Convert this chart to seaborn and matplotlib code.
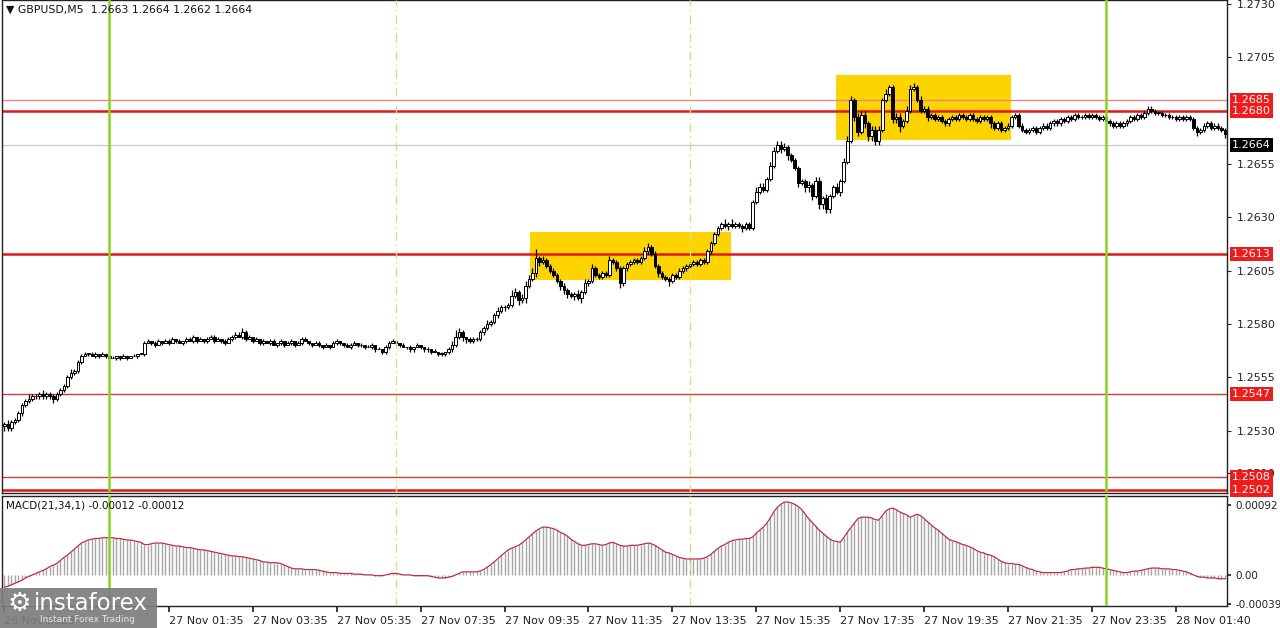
import numpy as np
import pandas as pd
import matplotlib
matplotlib.use("Agg")
import matplotlib.pyplot as plt
import seaborn as sns
from matplotlib.patches import Rectangle

# ---------------- data (prices in pips above BASE) ----------------
BASE = 1.2500
OPEN0 = 32
CLOSE_PIPS = [
    33, 31, 34, 35, 38, 42, 44, 45, 46, 46,
    47, 46, 47, 46, 45, 47, 49, 51, 55, 57,
    58, 62, 65, 66, 66, 65, 66, 65, 66, 65,
    64, 64, 65, 64, 65, 64, 65, 65, 66, 66,
    71, 72, 71, 70, 72, 71, 72, 71, 73, 72,
    71, 72, 73, 72, 74, 72, 73, 72, 73, 74,
    72, 73, 72, 71, 73, 74, 75, 74, 76, 73,
    74, 72, 73, 71, 72, 71, 72, 70, 71, 72,
    70, 71, 72, 70, 71, 73, 72, 71, 70, 71,
    70, 69, 70, 69, 71, 72, 71, 70, 69, 70,
    71, 70, 70, 69, 69, 70, 68, 68, 67, 69,
    71, 72, 71, 70, 69, 69, 68, 69, 70, 69,
    68, 68, 67, 67, 66, 66, 67, 68, 70, 74,
    76, 74, 73, 72, 73, 73, 76, 78, 80, 81,
    84, 86, 88, 88, 89, 93, 95, 91, 92, 98,
    101, 104, 111, 109, 110, 107, 105, 103, 100, 98,
    96, 94, 93, 94, 92, 95, 99, 100, 106, 103,
    102, 104, 103, 110, 109, 106, 99, 106, 108, 109,
    110, 109, 111, 114, 116, 113, 107, 104, 102, 101,
    100, 103, 102, 105, 106, 107, 108, 109, 108, 110,
    109, 114, 118, 122, 125, 127, 126, 127, 126, 127,
    126, 125, 127, 125, 137, 142, 144, 143, 148, 154,
    161, 164, 162, 163, 159, 157, 153, 146, 147, 144,
    145, 140, 147, 136, 139, 134, 140, 144, 142, 147,
    156, 166, 185, 177, 170, 178, 174, 168, 171, 166,
    171, 185, 188, 191, 176, 177, 173, 175, 180, 190,
    191, 185, 180, 181, 177, 178, 176, 177, 175, 174,
    176, 177, 176, 178, 177, 176, 178, 176, 175, 177,
    176, 177, 174, 172, 174, 171, 172, 173, 177, 178,
    173, 171, 170, 171, 172, 170, 172, 173, 172, 174,
    175, 174, 176, 175, 177, 176, 178, 177, 177, 178,
    177, 178, 177, 176, 177, 175, 174, 173, 174, 173,
    174, 175, 177, 176, 178, 177, 179, 181, 180, 179,
    179, 178, 178, 177, 177, 176, 177, 176, 177, 176,
    172, 170, 171, 173, 174, 172, 173, 172, 171, 169,
]
UPPER_WICK_PIPS = [
    1, 2, 1, 1, 1, 1, 1, 2, 1, 1,
    1, 2, 1, 1, 1, 1, 1, 1, 1, 2,
    1, 1, 1, 1, 0, 1, 1, 0, 1, 0,
    0, 1, 0, 0, 1, 0, 0, 1, 0, 0,
    1, 1, 0, 1, 1, 0, 1, 1, 1, 0,
    1, 0, 1, 1, 1, 0, 1, 0, 1, 1,
    1, 1, 0, 1, 1, 1, 1, 1, 2, 1,
    1, 0, 1, 0, 1, 0, 1, 1, 0, 1,
    0, 1, 1, 0, 1, 1, 1, 0, 0, 1,
    1, 0, 1, 0, 1, 1, 0, 0, 1, 1,
    1, 0, 1, 0, 1, 1, 0, 1, 0, 1,
    1, 1, 0, 0, 1, 0, 1, 0, 1, 0,
    0, 1, 0, 1, 0, 1, 0, 1, 2, 3,
    2, 1, 0, 1, 1, 1, 1, 1, 2, 1,
    1, 2, 1, 1, 1, 3, 2, 1, 2, 2,
    2, 2, 4, 1, 2, 1, 1, 1, 1, 1,
    1, 1, 1, 1, 2, 1, 2, 1, 2, 1,
    1, 1, 1, 2, 1, 1, 1, 1, 1, 1,
    1, 1, 1, 2, 2, 1, 1, 1, 1, 1,
    1, 1, 1, 1, 1, 1, 1, 1, 1, 1,
    1, 1, 1, 1, 1, 1, 2, 1, 2, 1,
    1, 1, 1, 1, 1, 2, 2, 2, 1, 2,
    2, 2, 2, 2, 1, 1, 1, 1, 1, 1,
    2, 1, 2, 2, 1, 2, 1, 1, 2, 1,
    2, 2, 2, 1, 2, 2, 2, 1, 2, 2,
    2, 1, 2, 1, 1, 2, 2, 1, 2, 2,
    2, 1, 2, 1, 1, 1, 1, 1, 1, 1,
    1, 1, 1, 1, 1, 1, 1, 1, 1, 1,
    1, 1, 1, 1, 1, 1, 1, 1, 1, 1,
    1, 1, 1, 1, 1, 1, 1, 1, 1, 1,
    1, 1, 1, 1, 1, 1, 1, 1, 1, 1,
    1, 1, 1, 1, 1, 1, 1, 1, 1, 1,
    1, 1, 1, 1, 1, 1, 1, 1, 1, 1,
    1, 1, 1, 1, 1, 1, 1, 1, 1, 1,
    1, 1, 1, 1, 1, 1, 1, 1, 1, 1,
]
LOWER_WICK_PIPS = [
    2, 1, 1, 1, 1, 1, 1, 1, 1, 1,
    1, 1, 1, 1, 2, 1, 1, 1, 1, 1,
    1, 1, 1, 0, 1, 0, 1, 1, 0, 1,
    1, 0, 1, 1, 0, 1, 0, 0, 1, 0,
    1, 0, 1, 1, 0, 1, 0, 1, 0, 1,
    0, 1, 1, 0, 1, 1, 0, 1, 1, 0,
    1, 0, 1, 1, 0, 1, 1, 0, 1, 1,
    0, 1, 0, 1, 1, 0, 1, 0, 1, 1,
    1, 0, 1, 1, 0, 1, 0, 1, 1, 0,
    1, 1, 0, 1, 0, 1, 1, 1, 0, 1,
    0, 1, 1, 1, 0, 1, 1, 0, 1, 1,
    1, 0, 1, 1, 0, 1, 1, 1, 0, 1,
    1, 1, 1, 0, 1, 1, 1, 1, 1, 1,
    1, 2, 2, 1, 1, 1, 1, 1, 1, 1,
    1, 1, 1, 2, 1, 1, 1, 2, 1, 2,
    1, 1, 2, 2, 1, 1, 1, 1, 1, 2,
    2, 2, 1, 2, 1, 2, 1, 1, 1, 1,
    1, 1, 1, 1, 1, 1, 2, 1, 1, 1,
    1, 1, 1, 1, 1, 1, 1, 2, 1, 1,
    2, 1, 1, 1, 1, 1, 1, 1, 1, 1,
    1, 1, 1, 1, 1, 1, 1, 2, 1, 1,
    1, 2, 1, 1, 1, 1, 1, 1, 1, 1,
    1, 1, 2, 1, 2, 1, 1, 2, 1, 2,
    2, 2, 1, 2, 2, 2, 2, 1, 1, 2,
    1, 1, 1, 2, 2, 1, 2, 2, 2, 2,
    2, 1, 1, 1, 2, 2, 3, 1, 1, 1,
    1, 1, 1, 1, 2, 1, 1, 1, 1, 1,
    1, 1, 1, 1, 1, 1, 1, 1, 1, 1,
    1, 1, 2, 1, 1, 1, 1, 1, 1, 1,
    1, 1, 1, 1, 1, 1, 1, 1, 1, 1,
    1, 1, 1, 1, 1, 1, 1, 1, 1, 1,
    1, 1, 1, 1, 1, 1, 1, 1, 1, 1,
    1, 1, 1, 1, 1, 1, 1, 1, 1, 1,
    1, 1, 1, 1, 1, 1, 1, 1, 1, 1,
    1, 2, 1, 1, 1, 1, 1, 1, 1, 2,
]
# MACD histogram values in units of 0.00001
MACD_UNITS = [
    -16, -15, -13, -11, -9, -7, -4, -2, 0, 2,
    4, 6, 8, 11, 13, 15, 19, 23, 26, 30,
    34, 38, 42, 44, 46, 47, 48, 48, 49, 49,
    49, 49, 48, 48, 47, 46, 46, 45, 44, 43,
    40, 40, 41, 42, 42, 42, 41, 40, 39, 38,
    38, 37, 36, 36, 35, 34, 33, 33, 32, 31,
    30, 29, 28, 27, 26, 25, 25, 24, 24, 23,
    22, 21, 20, 19, 17, 17, 16, 16, 16, 15,
    13, 11, 9, 8, 8, 8, 7, 7, 7, 7,
    6, 5, 4, 3, 3, 3, 2, 2, 2, 2,
    1, 1, 1, 0, 0, 0, -1, -1, -1, 0,
    1, 2, 2, 1, 0, 0, 0, -1, -1, -1,
    -1, -1, -2, -3, -4, -4, -4, -3, -2, 0,
    2, 4, 4, 4, 4, 4, 5, 7, 10, 13,
    17, 21, 25, 29, 33, 35, 37, 39, 42, 46,
    50, 54, 58, 61, 63, 63, 62, 61, 59, 56,
    54, 51, 47, 44, 41, 39, 39, 40, 41, 41,
    40, 39, 40, 42, 43, 41, 39, 38, 38, 39,
    39, 39, 40, 41, 42, 41, 39, 36, 33, 30,
    29, 27, 25, 23, 22, 21, 21, 21, 21, 21,
    22, 24, 27, 31, 35, 38, 40, 43, 45, 46,
    47, 47, 48, 48, 50, 55, 59, 63, 68, 75,
    83, 89, 93, 96, 96, 95, 93, 90, 86, 80,
    74, 69, 64, 59, 55, 51, 47, 45, 44, 43,
    49, 56, 62, 68, 74, 76, 76, 76, 75, 73,
    72, 78, 84, 87, 88, 86, 83, 81, 79, 76,
    78, 80, 78, 74, 70, 66, 62, 59, 55, 51,
    47, 45, 44, 42, 40, 39, 37, 35, 32, 30,
    29, 27, 26, 24, 21, 18, 16, 15, 15, 14,
    14, 12, 10, 8, 7, 5, 4, 3, 3, 3,
    3, 3, 3, 4, 5, 7, 7, 8, 8, 9,
    9, 10, 10, 10, 9, 8, 7, 6, 5, 4,
    3, 3, 4, 5, 5, 6, 7, 8, 9, 9,
    9, 8, 8, 8, 7, 7, 6, 5, 4, 2,
    0, -2, -3, -3, -4, -4, -4, -5, -5, -5,
]

XTICK_BARS = [0, 47, 71, 95, 119, 143, 167, 191, 215, 239, 263, 287, 311, 335]
XTICK_LABELS = ["26 Nov 2023", "27 Nov 01:35", "27 Nov 03:35", "27 Nov 05:35",
                "27 Nov 07:35", "27 Nov 09:35", "27 Nov 11:35", "27 Nov 13:35",
                "27 Nov 15:35", "27 Nov 17:35", "27 Nov 19:35", "27 Nov 21:35",
                "27 Nov 23:35", "28 Nov 01:40"]
PRICE_TICKS = [1.2730, 1.2705, 1.2655, 1.2630, 1.2605, 1.2580, 1.2555, 1.2530, 1.2510]
MACD_TICKS = [0.00092, 0.0, -0.00039]
MACD_TICK_LABELS = ["0.00092", "0.00", "-0.00039"]

LEVELS = [1.2685, 1.2680, 1.2613, 1.2547, 1.2508, 1.2502]
LEVEL_WIDTHS = [1.0, 1.8, 1.8, 1.0, 1.0, 1.8]
LEVEL_COLORS = ["#e58a8a", "#e0161b", "#e0161b", "#d23b3b", "#d23b3b", "#e0161b"]
BID = 1.2664
DAY_LINES = [30, 315]
SESSION_LINES = [112, 196]
BOXES = [(150.3, 207.9, 1.26008, 1.26229), (237.9, 287.9, 1.26663, 1.26965)]
HEADER = "\u25BC GBPUSD,M5  1.2663 1.2664 1.2662 1.2664"
MACD_TITLE = "MACD(21,34,1) -0.00012 -0.00012"

# ---------------- build frame ----------------
n = len(CLOSE_PIPS)
idx = np.arange(n)
close = BASE + np.array(CLOSE_PIPS) / 1e4
open_ = np.r_[BASE + OPEN0 / 1e4, close[:-1]]
high = np.maximum(open_, close) + np.array(UPPER_WICK_PIPS) / 1e4
low = np.minimum(open_, close) - np.array(LOWER_WICK_PIPS) / 1e4
df = pd.DataFrame({"bar": idx, "open": open_, "high": high, "low": low,
                   "close": close, "macd": np.array(MACD_UNITS) / 1e5})

sns.set_theme(style="white")
plt.rcParams["font.family"] = ["DejaVu Sans"]

W, H = 1280, 628
fig = plt.figure(figsize=(W / 100, H / 100), dpi=100)
fig.patch.set_facecolor("white")
ax = fig.add_axes([2 / W, 1 - 493 / H, 1225 / W, 493 / H])
axm = fig.add_axes([2 / W, 22 / H, 1225 / W, 110 / H], sharex=ax)

# yellow boxes
for x0, x1, y0, y1 in BOXES:
    ax.add_patch(Rectangle((x0, y0), x1 - x0, y1 - y0, facecolor="#fdd400",
                           edgecolor="none", zorder=1))

# horizontal levels
for lv, lw, col in zip(LEVELS, LEVEL_WIDTHS, LEVEL_COLORS):
    ax.axhline(lv, color=col, lw=lw, zorder=2)
ax.axhline(BID, color="#c8c8c8", lw=0.9, zorder=2)

# vertical lines on both panels
for a in (ax, axm):
    for v in DAY_LINES:
        a.axvline(v, color="#86d51c", lw=1.8, zorder=5)
    for v in SESSION_LINES:
        a.axvline(v, color="#cfe27c", lw=1.0, ls=(0, (6, 3, 1, 3)), zorder=5)

# candles
bull = df["close"] >= df["open"]
ax.vlines(df["bar"], df["low"], df["high"], colors="black", lw=0.9, zorder=3)
body = (df["close"] - df["open"]).abs().clip(lower=0.000015)
ax.bar(df["bar"], body, bottom=np.minimum(df["open"], df["close"]), width=0.75,
       color=np.where(bull, "white", "black"), edgecolor="black", linewidth=0.7, zorder=4)

ax.set_xlim(-0.7, n - 0.4)
ax.set_ylim(1.25007, 1.27319)

# price axis on right
ax.yaxis.tick_right()
ax.set_yticks(PRICE_TICKS)
ax.set_yticklabels([f"{t:.4f}" for t in PRICE_TICKS])
ax.tick_params(axis="y", direction="out", length=3, width=0.8, pad=4,
               labelsize=8, colors="#222222", right=True)
ax.tick_params(axis="x", bottom=False, labelbottom=False)
for s in ax.spines.values():
    s.set_color("#222222")
    s.set_linewidth(1.0)

# price label boxes
trans = ax.get_yaxis_transform()
for lv in LEVELS:
    ax.text(1.004, lv, f"{lv:.4f}", transform=trans, ha="left", va="center",
            fontsize=8, color="white", zorder=10, clip_on=False,
            bbox=dict(boxstyle="square,pad=0.18", fc="#ee1c1c", ec="none"))
ax.text(1.004, BID, f"{BID:.4f}", transform=trans, ha="left", va="center",
        fontsize=8, color="white", zorder=10, clip_on=False,
        bbox=dict(boxstyle="square,pad=0.18", fc="black", ec="none"))

# MACD panel
axm.vlines(df["bar"], 0, df["macd"], colors="#a6a6a6", lw=1.0, zorder=2)
sns.lineplot(data=df, x="bar", y="macd", ax=axm, color="#b8323e", lw=0.9, zorder=3)
axm.set_ylim(-0.00041, 0.00104)
axm.yaxis.tick_right()
axm.set_yticks(MACD_TICKS)
axm.set_yticklabels(MACD_TICK_LABELS)
axm.set_xticks(XTICK_BARS)
axm.set_xticklabels(XTICK_LABELS, ha="left")
axm.tick_params(axis="y", direction="out", length=3, pad=3, labelsize=7.5,
                colors="#222222", right=True)
axm.tick_params(axis="x", direction="out", length=4, pad=3, labelsize=8,
                colors="#222222", bottom=True)
axm.set_xlabel("")
axm.set_ylabel("")
for s in axm.spines.values():
    s.set_color("#222222")
    s.set_linewidth(1.0)

# texts
fig.text(6 / W, 1 - 10 / H, HEADER, fontsize=7.8, va="center", ha="left", color="#111111")
fig.text(6 / W, 1 - 505 / H, MACD_TITLE, fontsize=7.5, va="center", ha="left", color="#111111")

# watermark logo
fig.patches.append(Rectangle((0, 0), 157 / W, 40 / H, transform=fig.transFigure,
                             facecolor="#7d7d7d", alpha=0.92, edgecolor="none", zorder=20))
fig.text(19 / W, 1 - 604 / H, "\u2699", fontsize=19, color="white", va="center",
         ha="center", zorder=21)
fig.text(34 / W, 1 - 603 / H, "instaforex", fontsize=16.5, color="white",
         va="center", ha="left", zorder=21)
fig.text(40 / W, 1 - 620 / H, "Instant Forex Trading", fontsize=6.5, color="#e8e8e8",
         va="center", ha="left", zorder=21)

fig.savefig("out.png", dpi=100, facecolor="white")
